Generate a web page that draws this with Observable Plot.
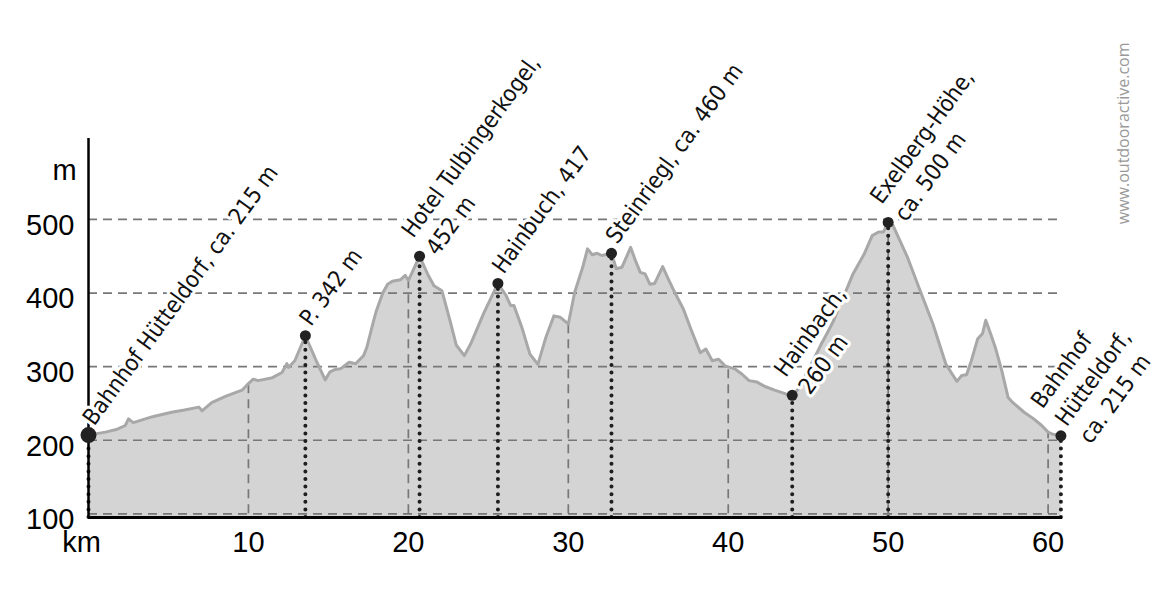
<!DOCTYPE html>
<html><head><meta charset="utf-8">
<script src="https://cdn.jsdelivr.net/npm/d3@7"></script>
<script src="https://cdn.jsdelivr.net/npm/@observablehq/plot@0.6"></script>
<style>
html,body{margin:0;padding:0;background:#fff;}
#chart svg{display:block;}
</style></head><body><div id="chart"></div>
<script>
// elevation profile (km along route, metres)
const profileKm = [0,0.5,1.06,1.8,2.3,2.5,2.8,3.4,4.0,4.6,5.2,6.0,6.9,7.1,7.7,8.6,9.6,10.0,10.3,10.6,11.5,12.1,12.4,12.5,12.9,13.56,14.2,14.8,15.1,15.4,15.75,16.3,16.7,17.2,17.4,17.8,18.0,18.4,18.7,19.0,19.5,19.8,20.0,20.7,21.2,21.6,22.1,22.6,23.0,23.5,23.9,24.7,25.6,26.1,26.4,26.6,27.1,27.6,28.1,28.6,29.1,29.5,30.0,30.4,30.9,31.2,31.5,31.8,32.1,32.7,33.0,33.35,33.9,34.2,34.5,34.8,35.1,35.4,35.9,36.3,36.7,37.2,37.7,38.25,38.6,39.0,39.4,39.8,40.4,40.85,41.3,41.8,42.3,42.9,43.6,44.0,44.4,44.8,45.3,45.8,46.2,46.6,47.0,47.5,47.8,48.5,49.0,49.4,49.7,50.0,50.3,51.2,52.0,52.8,53.6,54.0,54.3,54.6,54.9,55.2,55.6,55.9,56.1,56.4,56.7,57.1,57.5,57.8,58.5,59.1,59.6,60.0,60.3,60.8];
const profileElev = [207,209,211,215,220,229,224,228,232,235,238,241,245,240,251,260,268,277,283,281,285,292,304,299,308,342,310,282,293,296,297,306,304,315,326,360,376,400,412,416,418,424,417,450,426,410,403,363,329,315,331,372,413,397,383,383,353,317,303,340,369,367,358,401,435,460,452,454,451,454,433,435,462,444,428,426,412,413,436,417,399,378,349,319,324,308,310,301,297,290,281,279,273,268,263,261,270,287,308,330,346,363,385,410,426,453,478,483,483,496,492,449,403,358,304,290,280,288,289,308,338,345,363,345,326,295,258,251,238,229,220,211,208,206];

// waypoints
const wpKm = [0, 13.56, 20.7, 25.6, 32.7, 44.0, 50.0, 60.8];
const wpElev = [207, 342, 450, 413, 454, 261, 496, 206];
const wpLabel = [
  "Bahnhof Hütteldorf, ca. 215 m",
  "P. 342 m",
  "Hotel Tulbingerkogel,\n452 m",
  "Hainbuch, 417",
  "Steinriegl, ca. 460 m",
  "Hainbach,\n260 m",
  "Exelberg-Höhe,\nca. 500 m",
  "Bahnhof\nHütteldorf,\nca. 215 m"
];

const yTicks = [100, 200, 300, 400, 500];
const xTicks = [10, 20, 30, 40, 50, 60];
const gridKm = [10, 20, 30, 40, 50, 60];

const profile = profileKm.map((km, i) => ({km, elev: profileElev[i]}));
const waypoints = wpKm.map((km, i) => ({km, elev: wpElev[i], label: wpLabel[i]}));
const bis = d3.bisector(d => d.km).left;
function elevAt(km) {
  const i = Math.max(1, Math.min(profile.length - 1, bis(profile, km)));
  const a = profile[i - 1], b = profile[i];
  return a.elev + (b.elev - a.elev) * (km - a.km) / (b.km - a.km);
}
const gridV = gridKm.map(km => ({km, elev: elevAt(km)}));

const Y0 = 95, Y1 = 610, X1 = 60.9;
const labelFont = '"Liberation Sans Narrow", "DejaVu Sans Condensed", "Roboto Condensed", sans-serif';
const dash = {stroke: "#777", strokeWidth: 1.7, strokeDasharray: "9,6"};

const plot = Plot.plot({
  width: 1157, height: 591,
  marginLeft: 88, marginRight: 95, marginTop: 138, marginBottom: 74,
  x: {domain: [0, X1]},
  y: {domain: [Y0, Y1]},
  style: {fontFamily: '"Liberation Sans", Arial, sans-serif', background: "white", overflow: "visible", color: "#000"},
  marks: [
    Plot.areaY(profile, {x: "km", y1: Y0, y2: "elev", fill: "#d4d4d4"}),
    Plot.ruleY(yTicks, {...dash}),
    Plot.ruleX(gridV, {x: "km", y1: 100, y2: "elev", ...dash}),
    Plot.lineY(profile, {x: "km", y: "elev", stroke: "#a8a8a8", strokeWidth: 3, strokeLinejoin: "round"}),
    Plot.ruleX(waypoints, {x: "km", y1: Y0, y2: "elev", stroke: "#1e1e1e", strokeWidth: 4, strokeDasharray: "0,7.6", strokeLinecap: "round"}),
    Plot.ruleX([0], {stroke: "#000", strokeWidth: 2.5}),
    Plot.ruleY([Y0], {stroke: "#000", strokeWidth: 3}),
    Plot.dot(waypoints, {x: "km", y: "elev", r: 5.5, fill: "#222"}),
    Plot.dot(waypoints.slice(0, 1), {x: "km", y: "elev", r: 8, fill: "#222"}),
    Plot.text(waypoints, {x: "km", y: "elev", text: "label", rotate: -54, textAnchor: "start", lineAnchor: "middle",
      lineHeight: 1.3, dx: -2, dy: -14, fontSize: 23, fontFamily: labelFont, fill: "#111",
      stroke: "white", strokeWidth: 6}),
    Plot.axisY(yTicks, {tickSize: 0, tickPadding: 14, dy: 6, fontSize: 29, label: null}),
    Plot.axisX(xTicks, {tickSize: 0, tickPadding: 14, fontSize: 29, label: null}),
    Plot.text([0], {x: d => d, text: () => "km", frameAnchor: "bottom", textAnchor: "middle", lineAnchor: "top", dx: -7, dy: 14, fontSize: 29}),
    Plot.text(["m"], {text: d => d, frameAnchor: "top-left", textAnchor: "middle", dx: -24, dy: 21, fontSize: 29}),
    Plot.text(["www.outdooractive.com"], {text: d => d, frameAnchor: "top-right", rotate: -90, textAnchor: "end",
      dx: 55, dy: -96, fontSize: 16, fill: "#999", fontFamily: '"Open Sans", sans-serif'})
  ]
});
document.getElementById("chart").appendChild(plot);
</script>
</body></html>
